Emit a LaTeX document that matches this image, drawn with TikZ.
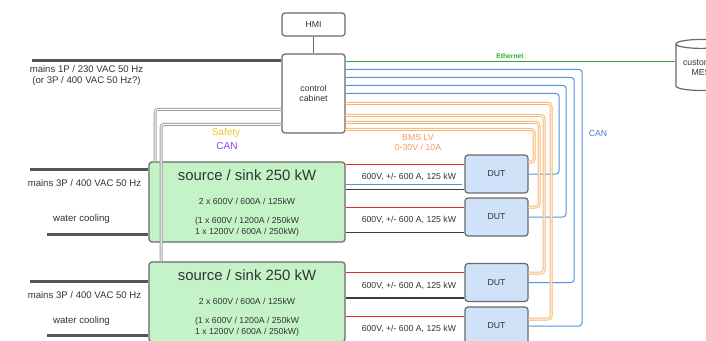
\documentclass[tikz,border=0pt]{standalone}
\usepackage{fontspec}
\setmainfont{Liberation Sans}
\usetikzlibrary{calc,positioning,shapes.geometric}
\definecolor{txtgray}{RGB}{51,51,51}
\definecolor{boxgray}{RGB}{105,105,105}
\definecolor{srcgreen}{RGB}{196,243,200}
\definecolor{dutblue}{RGB}{207,226,250}
\definecolor{mainsgray}{RGB}{85,85,85}
\definecolor{hvred}{RGB}{226,40,40}
\definecolor{retgray}{RGB}{60,60,60}
\definecolor{canblue}{RGB}{80,148,222}
\definecolor{bmsorange}{RGB}{246,180,110}
\definecolor{ethgreen}{RGB}{40,170,40}
\definecolor{safetyyellow}{RGB}{241,194,50}
\definecolor{canviolet}{RGB}{160,60,240}
\tikzset{
    box/.style={
        draw=boxgray,line width=1.2pt,rounded corners=3pt,
        fill=white,align=center,inner sep=0pt,text=txtgray,
        font=\fontsize{8.7}{10.5}\selectfont
    },
    srcbox/.style={box,fill=srcgreen,minimum width=196pt,minimum height=80pt},
    dutbox/.style={box,fill=dutblue,minimum width=63pt,minimum height=38pt},
    db/.style={cylinder,shape border rotate=90,aspect=0.25,draw=boxgray,line width=1.2pt,
        fill=white,align=center,inner sep=0pt,text=txtgray,
        minimum width=50pt,minimum height=51pt,font=\fontsize{8.7}{10.5}\selectfont},
    lbl/.style={inner sep=0pt,align=center,text=txtgray,font=\fontsize{8.7}{10.5}\selectfont},
    biglbl/.style={lbl,font=\fontsize{9.6}{11}\selectfont},
    wire/.style={draw=boxgray,line width=1pt},
    mains/.style={draw=mainsgray,line width=3pt},
    hv/.style={draw=hvred,line width=1pt},
    ret/.style={draw=retgray,line width=1.5pt},
    can/.style={draw=canblue,line width=1pt,rounded corners=3pt},
    bms/.style={draw=bmsorange,line width=1pt,double=white,double distance=1pt,rounded corners=3pt},
    safety/.style={draw=gray!75,line width=1pt,double=white,double distance=1pt,rounded corners=3pt},
    ethline/.style={draw=ethgreen,line width=1.2pt},
}

\begin{document}
\begin{tikzpicture}[x=1pt,y=-1pt]
    \useasboundingbox (0,0) rectangle (706,340);
    \clip (0,0) rectangle (706,340);

    \node[box,minimum width=63pt,minimum height=23pt] (hmi) at (313.5,24.5) {HMI};
    \node[box,minimum width=63pt,minimum height=79pt] (cab) at (313.5,93.5) {control\\cabinet};
    \node[db] (mes) at (701,67.5) {customer\\MES};
    \draw[wire] (hmi) -- (cab);

    \coordinate (m0) at (32,60);
    \draw[mains] (m0) -- (m0 -| cab.west);
    \node[biglbl] at (86.5,75.5) {mains 1P / 230 VAC 50 Hz\\(or 3P / 400 VAC 50 Hz?)};

    \foreach \s/\y/\my/\ml/\wl/\wy in {1/202/169/183/219/234,2/302/281/295/321/335}{
        \node[srcbox] (src\s) at (247,\y) {};
        \node[lbl,font=\fontsize{14.9}{17}\selectfont] at ($(src\s.north)+(0,13.5)$) {source / sink 250 kW};
        \node[lbl] at ($(src\s.north)+(0,39.5)$) {2 x 600V / 600A / 125kW};
        \node[lbl] at ($(src\s.north)+(0,65.5)$) {(1 x 600V / 1200A / 250kW\\1 x 1200V / 600A / 250kW)};
        \coordinate (mn\s) at (30,\my);
        \coordinate (wc\s) at (47,\wy);
        \draw[mains] (mn\s) -- (mn\s -| src\s.west);
        \draw[mains] (wc\s) -- (wc\s -| src\s.west);
        \node[biglbl] at (84.5,\ml) {mains 3P / 400 VAC 50 Hz};
        \node[biglbl] at (81.5,\wl) {water cooling};
    }

    \foreach \i/\s/\y/\cy/\cx/\oy/\ox/\off in {1/1/174/40/559/76/534/-12,2/1/217/32/566/69/539/-10,3/2/282.5/24/574/62/544/-9.5,4/2/326/16/582/50/551/-7}{
        \node[dutbox] (dut\i) at (496.5,\y) {DUT};
        \draw[hv] ($(dut\i.north west)+(0,10)$) -- ($(src\s.east |- dut\i.north)+(0,10)$);
        \draw[ret] ($(dut\i.south west)+(0,-4)$) -- ($(src\s.east |- dut\i.south)+(0,-4)$);
        \node[lbl] at ($(dut\i.west)+(-55.5,3)$) {600V, +/- 600 A, 125 kW};
        \draw[can] ($(cab.north east)+(0,\cy)$) -| (\cx,0 |- dut\i.east) -- (dut\i.east);
        \draw[bms] ($(cab.north east)+(0,\oy)$) -| ($(\ox,0 |- dut\i.east)+(0,\off)$) -- ($(dut\i.east)+(0,\off)$);
    }
    \draw[can] ($(src1.east |- dut1.south)+(0,-9)$) -- ($(dut1.south west)+(-2,-9)$);

    \draw[safety] ($(cab.north west)+(0,56)$) -| (155,0 |- src1.north);
    \draw[safety] ($(cab.north west)+(0,71)$) -| (161,0 |- src2.north);

    \node[lbl,text=safetyyellow,font=\fontsize{10}{12}\selectfont] at (226,133) {Safety};
    \node[lbl,text=canviolet,font=\fontsize{10}{12}\selectfont] at (227,146) {CAN};
    \node[lbl,text=bmsorange!85!red,font=\fontsize{8.8}{10}\selectfont] at (418,137) {BMS LV};
    \node[lbl,text=bmsorange!85!red,font=\fontsize{8.8}{10}\selectfont] at (418,147) {0-30V / 10A};
    \node[lbl,text=canblue!85!black] at (598,134) {CAN};

    \coordinate (e0) at ($(cab.north east)+(0,8)$);
    \draw[ethline] (e0) -- (e0 -| mes.west);
    \node[lbl,text=ethgreen,font=\fontsize{6.7}{8}\selectfont\bfseries] at (510,56) {Ethernet};
\end{tikzpicture}
\end{document}
